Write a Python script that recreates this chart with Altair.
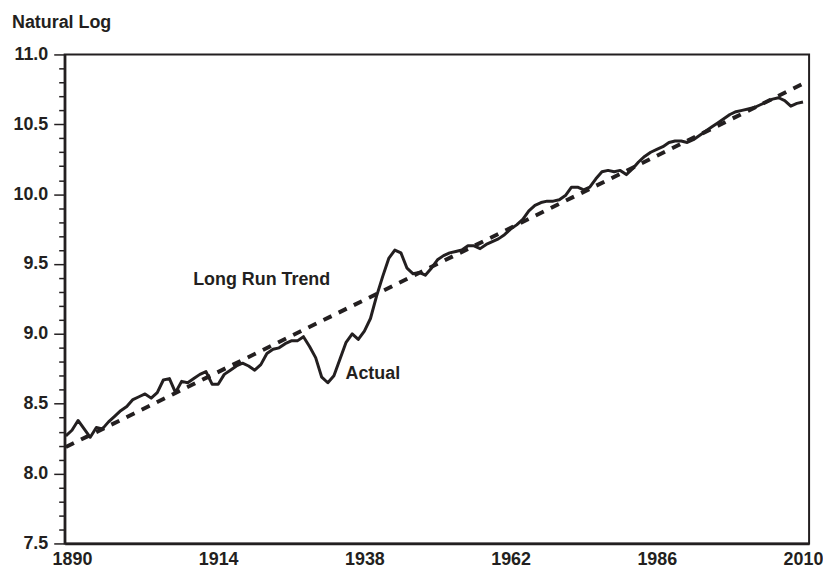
import altair as alt
import pandas as pd

# ---- data ----
years = list(range(1889, 2011))
actual_values = [
    # 1889-1898
    8.27, 8.31, 8.38, 8.32, 8.26, 8.33, 8.32, 8.37, 8.41, 8.45,
    # 1899-1908
    8.48, 8.53, 8.55, 8.57, 8.54, 8.58, 8.67, 8.68, 8.58, 8.66,
    # 1909-1918
    8.65, 8.68, 8.71, 8.73, 8.64, 8.64, 8.71, 8.74, 8.77, 8.79,
    # 1919-1928
    8.77, 8.74, 8.78, 8.86, 8.89, 8.90, 8.93, 8.95, 8.95, 8.98,
    # 1929-1938
    8.91, 8.83, 8.69, 8.65, 8.70, 8.82, 8.94, 9.00, 8.96, 9.02,
    # 1939-1948
    9.11, 9.27, 9.41, 9.54, 9.60, 9.58, 9.47, 9.43, 9.44, 9.42,
    # 1949-1958
    9.47, 9.53, 9.56, 9.58, 9.59, 9.60, 9.63, 9.63, 9.61, 9.64,
    # 1959-1968
    9.66, 9.68, 9.71, 9.75, 9.78, 9.82, 9.88, 9.92, 9.94, 9.95,
    # 1969-1978
    9.95, 9.96, 9.99, 10.05, 10.05, 10.03, 10.05, 10.11, 10.16, 10.17,
    # 1979-1988
    10.16, 10.17, 10.14, 10.18, 10.23, 10.27, 10.30, 10.32, 10.34, 10.37,
    # 1989-1998
    10.38, 10.38, 10.37, 10.39, 10.42, 10.45, 10.48, 10.51, 10.54, 10.57,
    # 1999-2008
    10.59, 10.60, 10.61, 10.62, 10.64, 10.66, 10.68, 10.69, 10.67, 10.63,
    # 2009-2010
    10.65, 10.66,
]

trend_years = [1889, 2010]
trend_values = [8.19, 10.79]

label_text = ["Long Run Trend", "Actual"]
label_year = [1909.9, 1934.9]
label_value = [9.385, 8.71]

x_tick_labels = [1890, 1914, 1938, 1962, 1986, 2010]
y_ticks = [round(7.5 + 0.1 * i, 1) for i in range(36)]

# ---- styling ----
FONT = "Liberation Sans, Arial, Helvetica, sans-serif"
INK = "#231F20"

actual_df = pd.DataFrame({"year": years, "value": actual_values})
trend_df = pd.DataFrame({"year": trend_years, "value": trend_values})
label_df = pd.DataFrame({"text": label_text, "year": label_year, "value": label_value})

major_test = "abs(datum.value * 2 - round(datum.value * 2)) < 0.001"

x_enc = alt.X(
    "year:Q",
    scale=alt.Scale(domain=[1888.8, 2011.0], nice=False, zero=False),
    axis=alt.Axis(
        values=x_tick_labels,
        tickCount=100,
        format="d",
        ticks=False,
        title=None,
        grid=False,
        labelFont=FONT,
        labelFontSize=18,
        labelFontWeight="bold",
        labelColor=INK,
        labelPadding=7,
        labelOverlap=False,
        labelFlush=False,
        domainColor=INK,
        domainWidth=2.5,
    ),
)

y_enc = alt.Y(
    "value:Q",
    scale=alt.Scale(domain=[7.5, 11.0], nice=False, zero=False),
    axis=alt.Axis(
        values=y_ticks,
        tickCount=100,
        labelExpr=f"{major_test} ? format(datum.value, '.1f') : ''",
        tickSize={"condition": {"test": major_test, "value": 11}, "value": 6},
        tickWidth=1.5,
        tickColor=INK,
        title=None,
        grid=False,
        labelFont=FONT,
        labelFontSize=18,
        labelFontWeight="bold",
        labelColor=INK,
        labelPadding=6,
        labelOverlap=False,
        labelFlush=False,
        domainColor=INK,
        domainWidth=2.5,
    ),
)

actual = alt.Chart(actual_df).mark_line(
    color=INK, strokeWidth=3, strokeJoin="round"
).encode(x=x_enc, y=y_enc)

trend = alt.Chart(trend_df).mark_line(
    color=INK, strokeWidth=4, strokeDash=[9, 8]
).encode(x="year:Q", y="value:Q")

labels = alt.Chart(label_df).mark_text(
    align="left", baseline="middle", font=FONT, fontSize=18,
    fontWeight="bold", color=INK
).encode(x="year:Q", y="value:Q", text="text:N")

chart = alt.layer(actual, trend, labels).properties(
    width=749,
    height=492,
    background="white",
    title=alt.TitleParams(
        "Natural Log",
        anchor="start",
        frame="group",
        dx=-53,
        dy=10,
        font=FONT,
        fontSize=18,
        fontWeight="bold",
        color=INK,
        baseline="alphabetic",
        offset=10,
    ),
    autosize=alt.AutoSizeParams(type="none"),
    padding={"left": 57, "top": 45, "right": 14, "bottom": 26},
).configure_view(
    stroke=INK, strokeWidth=2
)

chart.save("out.html", embed_options={"renderer": "svg", "actions": False})
